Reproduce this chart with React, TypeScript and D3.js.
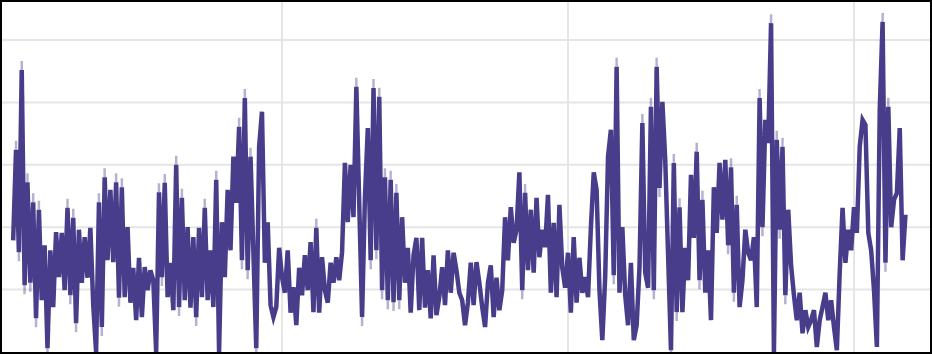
import * as d3 from "d3"

const width = 932
const height = 354

// daily series, first value is day 6
const firstDay = 6

const period1 = [
  1.79, 3.24, 1.6, 4.52, 1.07, 2.72, 1.11, 2.4, 0.54, 2.28,
  0.83, 1.71, 0.06, 1.63, 0.72, 1.92, 1.2, 1.91, 0.99, 2.31,
  0.91, 2.15, 0.46, 1.96, 1.11, 1.84, 1.19, 1.99, 0.75, 0.0,
  2.4, 0.4, 2.8, 1.47, 2.6, 1.44, 2.72, 0.87, 2.64, 0.88,
  2.0, 0.79, 1.35, 0.51, 1.51, 0.56, 1.36, 0.99, 1.31, 1.15,
  0.0, 2.56, 1.2, 2.71, 0.88, 1.43, 0.67, 3.0, 0.72, 2.47,
  0.83, 2.0, 0.71, 1.84, 0.56, 1.99, 0.88, 2.31, 0.83, 1.63,
  0.72, 2.76, 0.0, 2.08, 1.2, 2.6, 1.63, 3.13, 2.39, 3.61,
  1.47, 4.07, 1.31, 3.13, 1.59, 0.06, 3.29, 3.85, 1.43, 2.08,
  0.75, 0.56, 0.72, 1.67,
]

const period2 = [
  1.2, 0.95, 1.63, 0.63, 1.04, 0.43, 1.35, 0.91, 1.55, 0.99,
  1.76, 0.64, 1.99, 0.63, 1.52, 0.99, 0.79, 1.43, 1.11, 1.52,
  1.15, 1.6, 3.03, 2.08, 3.0, 2.16, 4.25, 2.39, 0.56, 2.48,
  3.59, 1.47, 4.23, 1.63, 4.09, 0.99, 2.8, 0.83, 2.76, 0.8,
  2.55, 0.83, 2.16, 1.11, 1.67, 0.63, 1.55, 1.83, 0.67, 1.83,
  0.71, 1.31, 0.54, 1.55, 0.59, 0.88, 1.36, 0.75, 1.63, 0.95,
  1.59, 1.31, 0.95, 0.83, 0.43, 0.79, 1.43, 0.75, 1.44, 1.11,
  0.72, 0.4, 1.11, 1.39, 0.56, 1.19, 0.67, 0.99, 2.16, 1.47,
  2.32, 1.75, 1.96, 2.88, 0.99, 2.55, 1.31, 2.28, 1.27, 2.47,
  1.52, 1.96, 1.68, 2.52, 0.95, 2.07, 0.88, 2.36, 1.35, 1.03,
]

const period3 = [
  1.59, 0.63, 1.84, 0.79, 1.51, 0.95, 1.2, 0.88, 1.99, 2.88,
  2.6, 0.99, 0.19, 1.2, 3.13, 3.56, 1.23, 4.57, 0.95, 2.0,
  0.91, 0.43, 1.43, 0.19, 0.43, 1.36, 3.67, 1.27, 1.03, 3.93,
  0.99, 4.57, 2.63, 4.01, 3.08, 1.55, 0.03, 3.03, 0.64, 2.32,
  0.64, 1.67, 1.15, 2.84, 1.83, 3.21, 1.15, 2.44, 0.95, 1.63,
  0.51, 2.64, 1.91, 3.03, 2.12, 3.08, 1.71, 2.96, 0.95, 2.36,
  0.72, 1.15, 1.96, 1.59, 1.47, 1.84, 0.72, 4.07, 2.0, 3.72,
  3.35, 5.27, -0.02, 3.4, 1.96, 3.29, 0.91, 2.28, 1.39, 0.91,
  0.51, 0.95, 0.3, 0.67, 0.4, 0.51, 0.67, 0.08, 0.51, 0.72,
  0.95, 0.51, 0.83, 0.4, 0.03, 1.27, 2.31, 1.43, 1.96, 1.63,
]

const period4 = [
  2.32, 1.91, 3.29, 3.72, 3.64, 1.91, 1.63, 0.99, 0.08, 3.88,
  5.29, 1.43, 3.93, 2.0, 2.44, 2.55, 3.59, 1.47, 2.2,
]

const values = [...period1, ...period2, ...period3, ...period4]

const xTicks = [100, 200, 300]
const yTicks = [1, 2, 3, 4, 5]

const color = "#483d8b"
const strokeW = 4.5

export default function App() {
  const x = d3.scaleLinear().domain([0, 300]).range([-4, 854])
  const y = d3.scaleLinear().domain([0, 5]).range([352, 40])

  const data = values.map((v, i) => ({ day: firstDay + i, v }))

  const line = d3
    .line<{ day: number; v: number }>()
    .x(d => x(d.day))
    .y(d => y(d.v))

  // faint tips on the big sharp spikes (where the miter gets cut)
  const pts = data.map(d => [x(d.day), y(d.v)])
  const tips: number[][] = []
  for (let i = 1; i < pts.length - 1; i++) {
    const [px, py] = pts[i]
    const ax = pts[i - 1][0] - px, ay = pts[i - 1][1] - py
    const bx = pts[i + 1][0] - px, by = pts[i + 1][1] - py
    if (ay * by <= 0 || Math.min(Math.abs(ay), Math.abs(by)) < 75) continue
    const la = Math.hypot(ax, ay), lb = Math.hypot(bx, by)
    const ux = ax / la + bx / lb, uy = ay / la + by / lb
    const lu = Math.hypot(ux, uy)
    if (lu === 0) continue
    const L = 2 * strokeW
    tips.push([px, py, px - (ux / lu) * L, py - (uy / lu) * L])
  }

  return (
    <svg
      width={width}
      height={height}
      style={{ position: "absolute", left: 0, top: 0, display: "block", background: "#fff" }}
    >
      <defs>
        <clipPath id="plot">
          <rect x={2} y={2} width={width - 4} height={height - 4} />
        </clipPath>
      </defs>
      <g stroke="#e5e5e5" strokeWidth={2}>
        {yTicks.map(t => (
          <line key={"y" + t} x1={0} x2={width} y1={y(t)} y2={y(t)} />
        ))}
        {xTicks.map(t => (
          <line key={"x" + t} x1={x(t)} x2={x(t)} y1={0} y2={height} />
        ))}
      </g>
      <g clipPath="url(#plot)">
        <g stroke={color} strokeOpacity={0.4} strokeWidth={2.5}>
          {tips.map((t, i) => (
            <line key={i} x1={t[0]} y1={t[1]} x2={t[2]} y2={t[3]} />
          ))}
        </g>
        <path
          d={line(data) ?? ""}
          fill="none"
          stroke={color}
          strokeWidth={strokeW}
          strokeLinejoin="miter"
          strokeMiterlimit={4}
        />
      </g>
      <rect x={1} y={1} width={width - 2} height={height - 2} fill="none" stroke="#000" strokeWidth={2} />
    </svg>
  )
}
